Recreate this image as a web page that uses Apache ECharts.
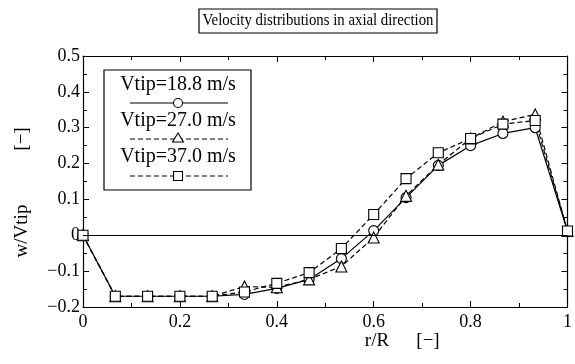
<!DOCTYPE html>
<html><head><meta charset="utf-8">
<script src="https://cdn.jsdelivr.net/npm/echarts@6/dist/echarts.min.js"></script>
<style>html,body{margin:0;padding:0;background:#fff}#c{width:575px;height:364px}</style>
</head><body><div id="c"></div>
<script>
var rValues = [0, 0.0667, 0.1333, 0.2, 0.2667, 0.3333, 0.4, 0.4667, 0.5333, 0.6, 0.6667, 0.7333, 0.8, 0.8667, 0.9333, 1.0];
var v188 = [0, -0.17, -0.17, -0.17, -0.17, -0.165, -0.148, -0.123, -0.065, 0.013, 0.105, 0.195, 0.25, 0.284, 0.30, 0.012];
var v270 = [0, -0.17, -0.17, -0.17, -0.17, -0.143, -0.145, -0.123, -0.087, -0.006, 0.11, 0.197, 0.27, 0.317, 0.337, 0.012];
var v370 = [0, -0.17, -0.17, -0.17, -0.17, -0.158, -0.134, -0.104, -0.037, 0.058, 0.158, 0.23, 0.27, 0.31, 0.32, 0.012];
var seriesNames = ['Vtip=18.8 m/s', 'Vtip=27.0 m/s', 'Vtip=37.0 m/s'];
var xTicks = [0, 0.2, 0.4, 0.6, 0.8, 1];
var yTicks = [-0.2, -0.1, 0, 0.1, 0.2, 0.3, 0.4, 0.5];

var FONT = '"Liberation Serif", "DejaVu Serif", serif';
function pairs(vals){ return rValues.map(function(r,i){ return [r, vals[i]]; }); }
function fmtX(v){ var r = Math.round(v*10)/10; return r===0?'0':(r===1?'1':String(r)); }
function fmtY(v){ var r = Math.round(v*10)/10; if (r===0) return '0'; return (r<0?'\u2212':'') + Math.abs(r).toFixed(1); }

var chart = echarts.init(document.getElementById('c'), null, {renderer:'canvas'});
var axisCommon = {
  axisLine:{show:true, onZero:false, lineStyle:{color:'#000', width:1.2}},
  axisTick:{show:true, inside:true, length:6, lineStyle:{color:'#000', width:1}},
  minorTick:{show:true, splitNumber:2, length:4, lineStyle:{color:'#000', width:1}},
  splitLine:{show:false}
};
function mk(name, vals, sym, dashed){
  return {
    name:name, type:'line', data:pairs(vals), symbol:sym, symbolSize: sym==='triangle'?11:10,
    showAllSymbol:true, animation:false,
    lineStyle:{color:'#000', width:1.2, type: dashed ? [5,3] : 'solid'},
    itemStyle:{color:'#fff', borderColor:'#000', borderWidth:1.1}
  };
}
var series = [
  mk(seriesNames[0], v188, 'circle', false),
  mk(seriesNames[1], v270, 'triangle', true),
  mk(seriesNames[2], v370, 'rect', true)
];
series[0].markLine = {silent:true, symbol:'none', label:{show:false}, animation:false,
  lineStyle:{color:'#000', type:'solid', width:1.2}, data:[{yAxis:0}]};
series[0].z = 3;

var gfx = [
  {type:'rect', shape:{x:199, y:9, width:238, height:24}, style:{fill:'#fff', stroke:'#000', lineWidth:1.2}},
  {type:'text', x:318, y:21, scaleX:0.87, style:{text:'Velocity distributions in axial direction', font:'17px '+FONT, fill:'#000', textAlign:'center', textVerticalAlign:'middle'}},
  {type:'rect', shape:{x:104, y:70, width:147, height:120}, style:{fill:'#fff', stroke:'#000', lineWidth:1.2}, z:10},
  {type:'text', x:22, y:231, rotation:Math.PI/2, style:{text:'w/Vtip', font:'19px '+FONT, fill:'#000', textAlign:'center', textVerticalAlign:'middle'}},
  {type:'text', x:22, y:139, rotation:Math.PI/2, style:{text:'[\u2212]', font:'19px '+FONT, fill:'#000', textAlign:'center', textVerticalAlign:'middle'}},
  {type:'text', x:377, y:341, style:{text:'r/R', font:'19px '+FONT, fill:'#000', textAlign:'center', textVerticalAlign:'middle'}},
  {type:'text', x:428, y:341, style:{text:'[\u2212]', font:'19px '+FONT, fill:'#000', textAlign:'center', textVerticalAlign:'middle'}}
];
var textY = [85, 121, 157];
var lineY = [103, 139, 176];
for (var i=0;i<3;i++){
  gfx.push({type:'text', x:178, y:textY[i], z:11, style:{text:seriesNames[i], font:'20px '+FONT, fill:'#000', textAlign:'center', textVerticalAlign:'middle'}});
  gfx.push({type:'line', z:11, shape:{x1:130, y1:lineY[i], x2:228, y2:lineY[i]}, style:{stroke:'#000', lineWidth:1.2, lineDash: i===0?null:[5,3]}});
}
gfx.push({type:'circle', z:12, shape:{cx:178, cy:lineY[0], r:4.5}, style:{fill:'#fff', stroke:'#000', lineWidth:1.1}});
gfx.push({type:'polygon', z:12, shape:{points:[[178,lineY[1]-6],[183.5,lineY[1]+3],[172.5,lineY[1]+3]]}, style:{fill:'#fff', stroke:'#000', lineWidth:1.1}});
gfx.push({type:'rect', z:12, shape:{x:173.5, y:lineY[2]-4.5, width:9, height:9}, style:{fill:'#fff', stroke:'#000', lineWidth:1.1}});

chart.setOption({
  animation:false,
  backgroundColor:'#fff',
  grid:{left:83, right:3, top:56, bottom:57},
  xAxis:[
    Object.assign({type:'value', min:xTicks[0], max:xTicks[xTicks.length-1], interval:0.2, position:'bottom',
      axisLabel:{color:'#000', fontFamily:FONT, fontSize:18, margin:6, formatter:fmtX}}, axisCommon),
    Object.assign({type:'value', min:xTicks[0], max:xTicks[xTicks.length-1], interval:0.2, position:'top',
      axisLabel:{show:false}}, axisCommon)
  ],
  yAxis:[
    Object.assign({type:'value', min:yTicks[0], max:yTicks[yTicks.length-1], interval:0.1, position:'left',
      axisLabel:{color:'#000', fontFamily:FONT, fontSize:18, margin:3, formatter:fmtY}}, axisCommon),
    Object.assign({type:'value', min:yTicks[0], max:yTicks[yTicks.length-1], interval:0.1, position:'right',
      axisLabel:{show:false}}, axisCommon)
  ],
  series:series,
  graphic:gfx
});
</script></body></html>
